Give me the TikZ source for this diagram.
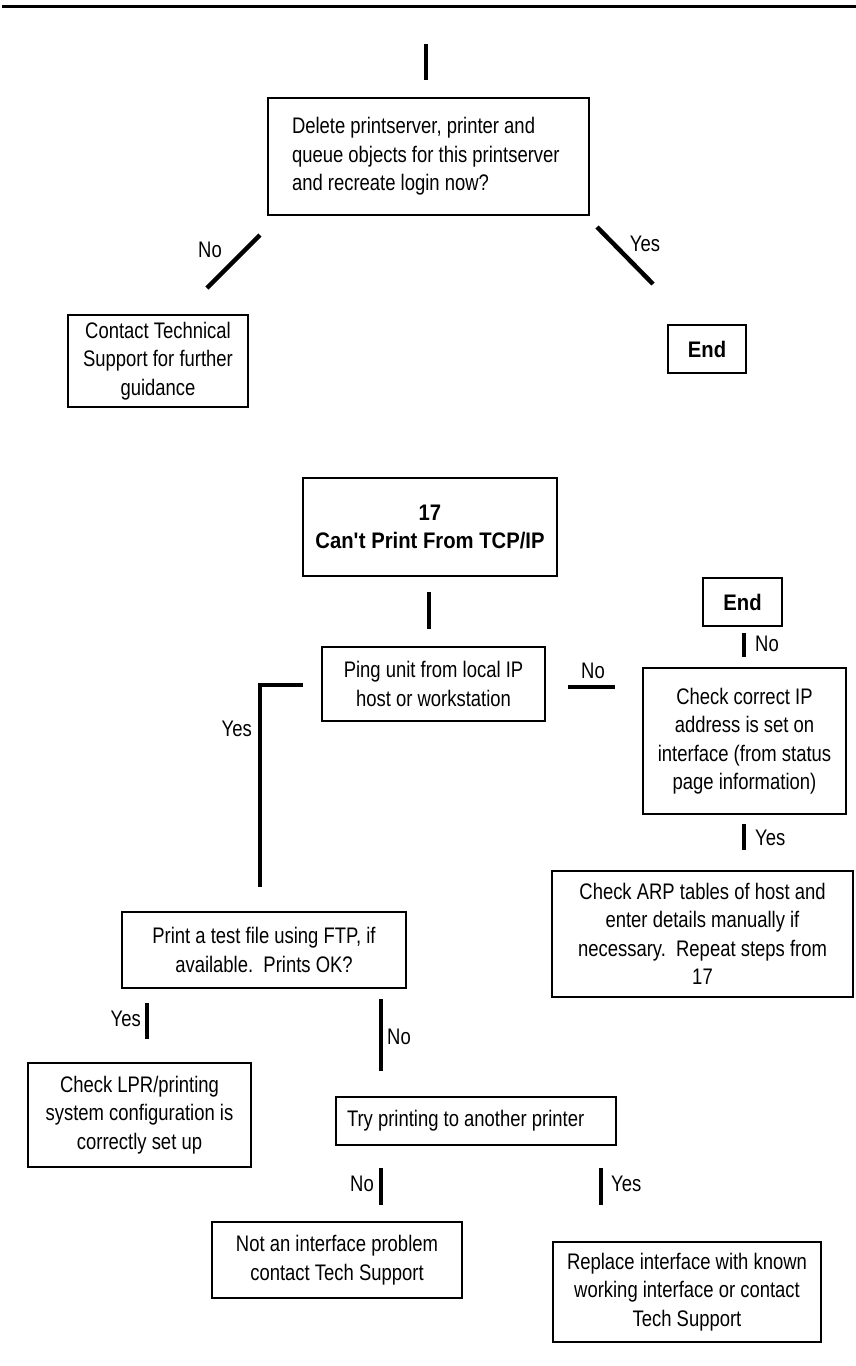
\documentclass[tikz,border=0pt]{standalone}
\usepackage{fontspec}
\setmainfont{Liberation Sans}[FakeStretch=0.82]
\newfontfamily\boldfam{Liberation Sans}[FakeStretch=0.9]
\newcommand\bodyfont{\fontsize{22.5}{28.5}\selectfont}
\newcommand\headfont{\boldfam\bfseries\fontsize{22.5}{28.5}\selectfont}
\begin{document}
\begin{tikzpicture}[x=1pt,y=-1pt,
  box/.style={draw, line width=2pt, inner sep=0pt, align=center, font=\bodyfont},
  hbox/.style={box, font=\headfont},
  bar/.style={line width=4.5pt, line join=miter},
  rule/.style={line width=3pt},
  lbl/.style={font=\bodyfont, inner sep=0pt}]
\useasboundingbox (0,0) rectangle (856,1366);

% top rule
\coordinate (r1) at (2,6.5);
\coordinate (r2) at (856,6.5);
\draw[rule] (r1) -- (r2);

% upper section
\node[box, align=flush left, text width=297, inner xsep=12, minimum height=117] (del) at (428.5,156.5)
  {\hspace*{12pt}Delete printserver, printer and\\\hspace*{12pt}queue objects for this printserver\\\hspace*{12pt}and recreate login now?};
\node[box, minimum width=180, minimum height=92] (contact) at (158,361)
  {Contact Technical\\Support for further\\guidance};
\node[hbox, minimum width=78, minimum height=48] (end1) at (707,349) {End};

\coordinate (t1) at (426,44);
\coordinate (t2) at (426,80);
\draw[bar] (t1) -- (t2);
\coordinate (n1) at (260,235);
\coordinate (n2) at (207,288);
\draw[bar] (n1) -- (n2);
\node[lbl] (lno1) at (210,250) {No};
\coordinate (y1) at (597,227);
\coordinate (y2) at (653,284);
\draw[bar] (y1) -- (y2);
\node[lbl] (lyes1) at (645,244) {Yes};

% lower section
\node[hbox, minimum width=254, minimum height=98] (head) at (430,527)
  {17\\Can\textquotesingle t Print From TCP/IP};
\node[box, minimum width=223, minimum height=74] (ping) at (433.5,684)
  {Ping unit from local IP\\host or workstation};
\node[hbox, minimum width=79, minimum height=48] (end2) at (742.5,602) {End};
\node[box, minimum width=203, minimum height=146] (chkip) at (744.5,741)
  {Check correct IP\\address is set on\\interface (from status\\page information)};
\node[box, minimum width=301, minimum height=126] (arp) at (702.5,934)
  {Check ARP tables of host and\\enter details manually if\\necessary.\ \ Repeat steps from\\17};
\node[box, minimum width=284, minimum height=76] (ftp) at (264,950)
  {Print a test file using FTP, if\\available.\ \ Prints OK?};
\node[box, minimum width=223, minimum height=104] (lpr) at (139.5,1115)
  {Check LPR/printing\\system configuration is\\correctly set up};
\node[box, align=flush left, text width=258, inner xsep=11, minimum height=48] (try) at (476,1121)
  {Try printing to another printer};
\node[box, minimum width=250, minimum height=76] (notif) at (337,1260)
  {Not an interface problem\\contact Tech Support};
\node[box, minimum width=268, minimum height=100] (repl) at (687,1292)
  {Replace interface with known\\working interface or contact\\Tech Support};

% connectors
\coordinate (h1) at (429,592);
\coordinate (h2) at (429,629);
\draw[bar] (h1) -- (h2);

\coordinate (py1) at (303,685);
\coordinate (py2) at (260,685);
\coordinate (py3) at (260,887);
\draw[bar] (py1) -- (py2) -- (py3);
\node[lbl, anchor=east] (lyes2) at (252,729) {Yes};

\coordinate (pn1) at (568,687);
\coordinate (pn2) at (615,687);
\draw[bar] (pn1) -- (pn2);
\node[lbl] (lno2) at (593,671) {No};

\coordinate (en1) at (744,633);
\coordinate (en2) at (744,657);
\draw[bar] (en1) -- (en2);
\node[lbl, anchor=west] (lno3) at (755,644) {No};

\coordinate (cy1) at (744,824);
\coordinate (cy2) at (744,850);
\draw[bar] (cy1) -- (cy2);
\node[lbl, anchor=west] (lyes3) at (755,838) {Yes};

\coordinate (fy1) at (147,1003);
\coordinate (fy2) at (147,1039);
\draw[bar] (fy1) -- (fy2);
\node[lbl, anchor=east] (lyes4) at (141,1019) {Yes};

\coordinate (fn1) at (381,999);
\coordinate (fn2) at (381,1071);
\draw[bar] (fn1) -- (fn2);
\node[lbl, anchor=west] (lno4) at (387,1037) {No};

\coordinate (tn1) at (381,1168);
\coordinate (tn2) at (381,1205);
\draw[bar] (tn1) -- (tn2);
\node[lbl, anchor=east] (lno5) at (374,1184) {No};

\coordinate (ty1) at (601,1168);
\coordinate (ty2) at (601,1205);
\draw[bar] (ty1) -- (ty2);
\node[lbl, anchor=west] (lyes5) at (611,1184) {Yes};
\end{tikzpicture}
\end{document}
